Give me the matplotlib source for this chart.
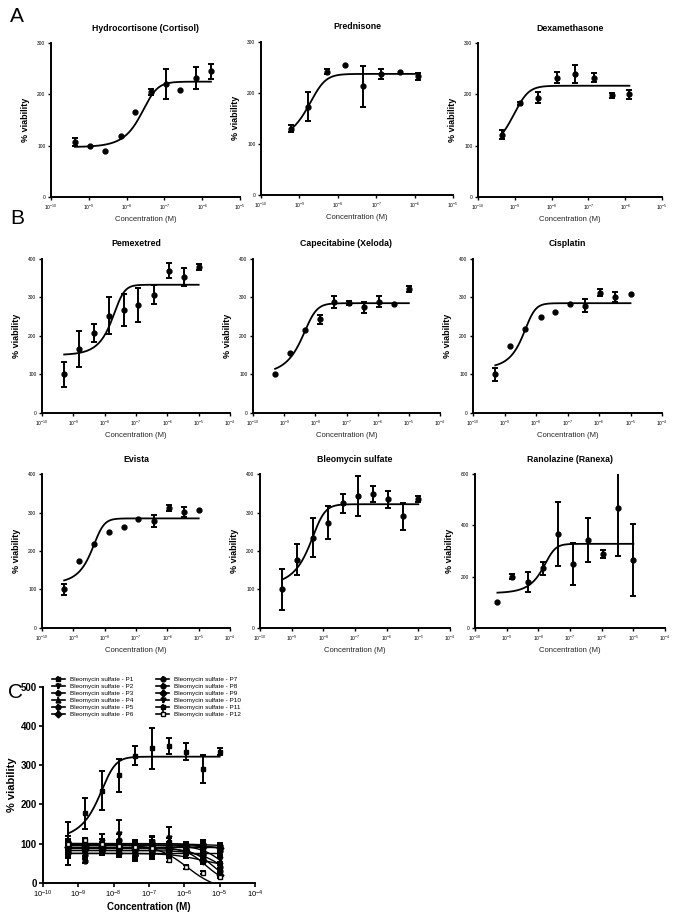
import numpy as np
import matplotlib
matplotlib.use("Agg")
import matplotlib.pyplot as plt
from matplotlib.ticker import LogLocator, NullLocator, MultipleLocator

plt.rcParams['font.family'] = ['Liberation Sans', 'DejaVu Sans']
plt.rcParams['mathtext.fontset'] = 'custom'
plt.rcParams['mathtext.rm'] = 'Liberation Sans'
plt.rcParams['mathtext.it'] = 'Liberation Sans'
plt.rcParams['mathtext.bf'] = 'Liberation Sans:bold'

# ---------------- data ----------------
# panel A
hc_conc = [4.3e-10, 1.1e-9, 2.7e-9, 6.9e-9, 1.7e-8, 4.3e-8, 1.1e-7, 2.6e-7, 6.8e-7, 1.7e-6]
hc_mean = [107, 100, 90, 119, 165, 205, 221, 209, 232, 245]
hc_err = [7, 0, 0, 0, 0, 6, 29, 0, 21, 15]
hc_fit = (97, 225, -7.43, 2.5, 0.5)       # bottom, top, logX, hill, asym

pred_conc = [5.9e-10, 1.7e-9, 5.2e-9, 1.55e-8, 4.5e-8, 1.35e-7, 4.1e-7, 1.23e-6]
pred_mean = [130, 173, 241, 254, 213, 237, 241, 232]
pred_err = [7, 29, 5, 0, 40, 10, 0, 7]
pred_fit = (100, 237, -8.54, 2.5, 0.4)

dex_conc = [4.4e-10, 1.4e-9, 4.4e-9, 1.4e-8, 4.4e-8, 1.4e-7, 4.4e-7, 1.3e-6]
dex_mean = [121, 183, 194, 233, 240, 233, 198, 200]
dex_err = [9, 3, 10, 11, 17, 8, 5, 8]
dex_fit = (80, 217, -8.85, 2.5, 0.4)

# panel B / C share one dilution series
conc = [5.1e-10, 1.5e-9, 4.6e-9, 1.4e-8, 4.1e-8, 1.2e-7, 3.7e-7, 1.1e-6, 3.3e-6, 1.0e-5]

pem_mean = [100, 165, 208, 252, 268, 280, 307, 370, 354, 379]
pem_err = [32, 47, 24, 48, 42, 44, 25, 19, 23, 7]
pem_fit = (150, 333, -7.55, 3.0, 0.4)

cape_mean = [100, 156, 215, 243, 288, 285, 274, 289, 282, 322]
cape_err = [0, 0, 0, 12, 16, 6, 15, 15, 0, 7]
cape_fit = (100, 285, -8.175, 2.5, 0.4)

cis_mean = [100, 174, 218, 250, 263, 284, 278, 312, 302, 308]
cis_err = [17, 0, 0, 0, 0, 0, 17, 9, 13, 0]
cis_fit = (115, 285, -8.2, 3.0, 0.4)

evi_mean = [100, 174, 217, 250, 262, 283, 278, 311, 301, 307]
evi_err = [15, 0, 0, 0, 0, 0, 16, 8, 13, 0]
evi_fit = (115, 285, -8.2, 3.0, 0.4)

bleo_mean = [100, 177, 235, 274, 324, 343, 349, 335, 291, 335]
bleo_err = [54, 40, 50, 43, 24, 53, 20, 22, 35, 8]
bleo_fit = (110, 322, -8.165, 2.5, 0.4)

ran_mean = [99, 200, 180, 232, 366, 249, 343, 287, 467, 265]
ran_err = [0, 9, 39, 24, 125, 82, 87, 15, 185, 140]
ran_fit = (135, 328, -7.64, 3.0, 0.4)

# panel C, patients P2..P12 (P1 = bleomycin series above)
pat_labels = ["Bleomycin sulfate - P%d" % i for i in range(1, 13)]
pat_mean = [
    [100, 95, 105, 125, 95, 105, 115, 90, 95, 90],
    [80, 55, 80, 85, 70, 75, 85, 80, 60, 40],
    [95, 90, 100, 95, 90, 95, 100, 90, 80, 55],
    [85, 85, 90, 85, 80, 85, 90, 85, 70, 30],
    [90, 95, 85, 90, 95, 85, 90, 95, 90, 88],
    [75, 70, 80, 75, 70, 80, 75, 80, 75, 80],
    [105, 100, 100, 110, 100, 105, 95, 95, 100, 95],
    [90, 85, 95, 90, 85, 90, 85, 80, 55, 20],
    [70, 75, 80, 80, 65, 70, 75, 70, 65, 60],
    [100, 90, 95, 100, 95, 100, 105, 90, 85, 85],
    [100, 110, 100, 95, 90, 88, 57, 40, 25, 15],
]
pat_err = [
    [12, 10, 20, 35, 12, 15, 28, 8, 10, 8],
    [10, 5, 8, 10, 12, 15, 10, 8, 10, 10],
    [10, 8, 12, 10, 10, 12, 15, 8, 10, 10],
    [12, 10, 10, 12, 15, 20, 12, 10, 12, 8],
    [8, 10, 8, 10, 8, 10, 8, 6, 8, 6],
    [10, 8, 8, 10, 10, 8, 10, 8, 8, 8],
    [15, 10, 12, 15, 10, 12, 10, 8, 8, 6],
    [10, 8, 10, 8, 10, 10, 8, 8, 8, 6],
    [8, 8, 8, 8, 10, 10, 8, 8, 8, 8],
    [10, 8, 8, 10, 8, 10, 10, 8, 8, 6],
    [5, 5, 5, 5, 5, 5, 5, 4, 4, 4],
]
pat_fit = [  # top, bottom, logIC50, hill (decreasing)
    (100, 88, -5.5, 1.5),
    (82, 0, -4.9, 1.2),
    (95, 0, -4.85, 1.3),
    (87, 0, -5.2, 1.5),
    (90, 90, -5.0, 1.0),
    (77, 77, -5.0, 1.0),
    (100, 94, -5.5, 1.0),
    (90, 0, -5.4, 1.5),
    (75, 40, -5.5, 1.0),
    (97, 85, -5.3, 1.0),
    (98, -20, -5.91, 1.0),
]
pat_markers = ['s', 'v', 'o', '^', 'o', 'D', 'o', 'o', 'D', 'v', 's', 's']
pat_filled = [True] * 11 + [False]

W, H = 676, 914
fig = plt.figure(figsize=(W / 100, H / 100), dpi=100)


def px_axes(x0, x1, y_top, y_bot):
    return fig.add_axes([x0 / W, 1 - y_bot / H, (x1 - x0) / W, (y_bot - y_top) / H])


def rising(fit, lx):
    bottom, top, xb, hill, s = fit
    return bottom + (top - bottom) / (1 + 10 ** ((xb - lx) * hill)) ** s


def falling(fit, lx):
    top, bottom, ic, hill = fit
    return bottom + (top - bottom) / (1 + 10 ** ((lx - ic) * hill))


def style(ax, xmax, ymax, ystep, big=False):
    ax.set_xscale('log')
    ax.set_xlim(1e-10, xmax)
    ax.set_ylim(0, ymax)
    ax.xaxis.set_major_locator(LogLocator(base=10, numticks=20))
    ax.xaxis.set_minor_locator(NullLocator())
    ax.yaxis.set_major_locator(MultipleLocator(ystep))
    for s in ['top', 'right']:
        ax.spines[s].set_visible(False)
    for s in ['left', 'bottom']:
        ax.spines[s].set_linewidth(1.4)
    if big:
        ax.tick_params(width=1.2, length=3, labelsize=7, pad=1.5)
        ax.tick_params(axis='x', labelsize=5.5)
        for t in ax.get_yticklabels():
            t.set_fontweight('bold')
        ax.set_xlabel("Concentration (M)", fontsize=7, fontweight='bold', labelpad=1)
        ax.set_ylabel("% viability", fontsize=8, fontweight='bold')
        ax.yaxis.set_label_coords(-0.125, 0.5)
    else:
        ax.tick_params(width=1.0, length=2.5, labelsize=3.5, pad=1.5)
        ax.set_xlabel("Concentration (M)", fontsize=5.5, labelpad=3, color='#222222')
        ax.set_ylabel("% viability", fontsize=6.5, fontweight='bold', labelpad=5)


def draw_series(ax, cx, mean, err, marker='o', ms=3.5, filled=True):
    cx = np.array(cx)
    mean = np.array(mean, float)
    err = np.array(err, float)
    has = err > 0
    if has.any():
        ax.errorbar(cx[has], mean[has], yerr=err[has], fmt='none', ecolor='black',
                    elinewidth=1.4, capsize=2.2, capthick=1.4, zorder=3)
    ax.plot(cx, mean, linestyle='none', marker=marker, ms=ms, mec='black',
            mfc='black' if filled else 'white', mew=1.0, zorder=4)


def draw_rising(ax, cx, fit):
    lx = np.linspace(np.log10(cx[0]), np.log10(cx[-1]), 300)
    ax.plot(10 ** lx, rising(fit, lx), color='black', lw=1.3, zorder=2)


def small_panel(box, title, cx, mean, err, fit, xmax, ymax, ystep):
    ax = px_axes(*box)
    style(ax, xmax, ymax, ystep)
    draw_rising(ax, cx, fit)
    draw_series(ax, cx, mean, err)
    ax.set_title(title, fontsize=6.3, fontweight='bold', pad=9)
    return ax


# ---------------- panel A ----------------
small_panel((51, 240, 43.3, 196.7), "Hydrocortisone (Cortisol)",
            hc_conc, hc_mean, hc_err, hc_fit, 1e-5, 300, 100)
small_panel((261, 453, 41.7, 195), "Prednisone",
            pred_conc, pred_mean, pred_err, pred_fit, 1e-5, 300, 100)
small_panel((478, 662, 43.3, 196.7), "Dexamethasone",
            dex_conc, dex_mean, dex_err, dex_fit, 1e-5, 300, 100)

# ---------------- panel B ----------------
small_panel((42, 230, 259, 412.7), "Pemexetred",
            conc, pem_mean, pem_err, pem_fit, 1e-4, 400, 100)
small_panel((253, 440, 259, 412.7), "Capecitabine (Xeloda)",
            conc, cape_mean, cape_err, cape_fit, 1e-4, 400, 100)
small_panel((473, 662, 259, 412.7), "Cisplatin",
            conc, cis_mean, cis_err, cis_fit, 1e-4, 400, 100)
small_panel((42, 230, 474.3, 627.7), "Evista",
            conc, evi_mean, evi_err, evi_fit, 1e-4, 400, 100)
small_panel((260, 450, 474.3, 627.7), "Bleomycin sulfate",
            conc, bleo_mean, bleo_err, bleo_fit, 1e-4, 400, 100)
small_panel((475, 665, 474.3, 627.7), "Ranolazine (Ranexa)",
            conc, ran_mean, ran_err, ran_fit, 1e-4, 600, 200)

# ---------------- panel C ----------------
axc = px_axes(43, 255, 687, 882.7)
style(axc, 1e-4, 500, 100, big=True)
draw_rising(axc, conc, bleo_fit)
draw_series(axc, conc, bleo_mean, bleo_err, marker=pat_markers[0], ms=3.5)
lx = np.linspace(np.log10(conc[0]), np.log10(conc[-1]), 300)
for i in range(11):
    axc.plot(10 ** lx, falling(pat_fit[i], lx), color='black', lw=1.0, zorder=2)
    draw_series(axc, conc, pat_mean[i], pat_err[i], marker=pat_markers[i + 1],
                ms=3.5, filled=pat_filled[i + 1])

handles = []
for i in range(12):
    h = axc.errorbar([], [], yerr=[], fmt=pat_markers[i] + '-', color='black', ms=3.5,
                     mfc='black' if pat_filled[i] else 'white', capsize=2.2,
                     lw=1.2, elinewidth=1.2, capthick=1.2)
    handles.append(h)
fig.legend(handles, pat_labels, ncol=2, loc='upper left',
           bbox_to_anchor=(52 / W, 1 - 677 / H), frameon=False, fontsize=4.6,
           handlelength=2.0, handletextpad=0.8, columnspacing=3.6,
           labelspacing=0.22, borderpad=0, borderaxespad=0)

# panel letters
fig.text(10 / W, 1 - 22 / H, "A", fontsize=15)
fig.text(10 / W, 1 - 224 / H, "B", fontsize=15)
fig.text(8 / W, 1 - 698 / H, "C", fontsize=15)

fig.savefig("out.png", dpi=100)
